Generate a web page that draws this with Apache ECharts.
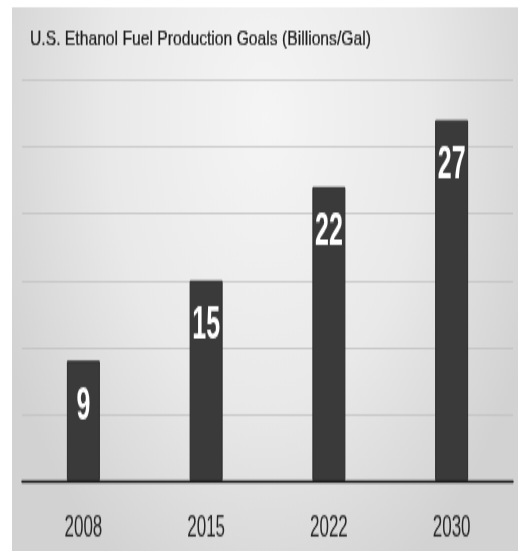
<!DOCTYPE html>
<html>
<head>
<meta charset="utf-8">
<script src="https://cdn.jsdelivr.net/npm/echarts@6/dist/echarts.min.js"></script>
<style>
  html, body { margin: 0; padding: 0; background: #ffffff; width: 518px; height: 551px; }
  #frame { position: relative; width: 518px; height: 551px; }
  /* the chart is laid out on a shorter canvas and stretched tall */
  #chart { position: absolute; left: 0; top: 0; width: 518px; height: 306px; transform: scaleY(1.8007); transform-origin: 0 0; }
</style>
</head>
<body>
<div id="frame"><div id="chart"></div></div>
<script>
// Production goals, billions of gallons per year
const years = ['2008', '2015', '2022', '2030'];
const goals = [9, 15, 22, 27];
const axisMax = 30;
const axisStep = 5;
const heading = 'U.S. Ethanol Fuel Production Goals (Billions/Gal)';

const chart = echarts.init(document.getElementById('chart'), null, { renderer: 'canvas' });

chart.setOption({
  animation: false,
  graphic: [{
    type: 'rect',
    z: -10,
    shape: { x: 12, y: 3.9, width: 506, height: 305 },
    style: {
      fill: {
        type: 'radial', x: 0.5, y: 0.2, r: 0.95,
        colorStops: [
          { offset: 0, color: '#f5f5f5' },
          { offset: 0.55, color: '#e9e9e9' },
          { offset: 1, color: '#d2d2d2' }
        ]
      }
    }
  }, {
    // heading is squashed back so it is less tall than the tick labels
    type: 'text',
    x: 30,
    y: 21.4,
    scaleY: 0.72,
    style: {
      text: heading,
      fontFamily: 'Liberation Sans',
      fontSize: 15.7,
      fill: '#1c1c1c',
      stroke: '#1c1c1c',
      lineWidth: 0.25,
      verticalAlign: 'middle'
    }
  }],
  grid: { left: 22, right: 5, top: 44.4, bottom: 38.9, containLabel: false },
  xAxis: {
    type: 'category',
    data: years,
    axisLine: { lineStyle: { color: '#1a1a1a', width: 1.3 } },
    axisTick: { show: false },
    axisLabel: {
      margin: 18,
      fontFamily: 'Liberation Sans',
      fontSize: 17,
      color: '#262626'
    }
  },
  yAxis: {
    type: 'value',
    min: 0,
    max: axisMax,
    interval: axisStep,
    axisLine: { show: false },
    axisTick: { show: false },
    axisLabel: { show: false },
    splitLine: { lineStyle: { color: '#c2c2c2', width: 0.8 } }
  },
  series: [{
    type: 'bar',
    data: goals,
    barWidth: 33,
    itemStyle: { color: '#3a3a3a', borderColor: '#2c2c2c', borderWidth: 1 },
    label: {
      show: true,
      position: 'insideTop',
      distance: 13,
      fontFamily: 'Liberation Sans',
      fontWeight: 'bold',
      fontSize: 25,
      color: '#ffffff'
    }
  }]
});
</script>
</body>
</html>
